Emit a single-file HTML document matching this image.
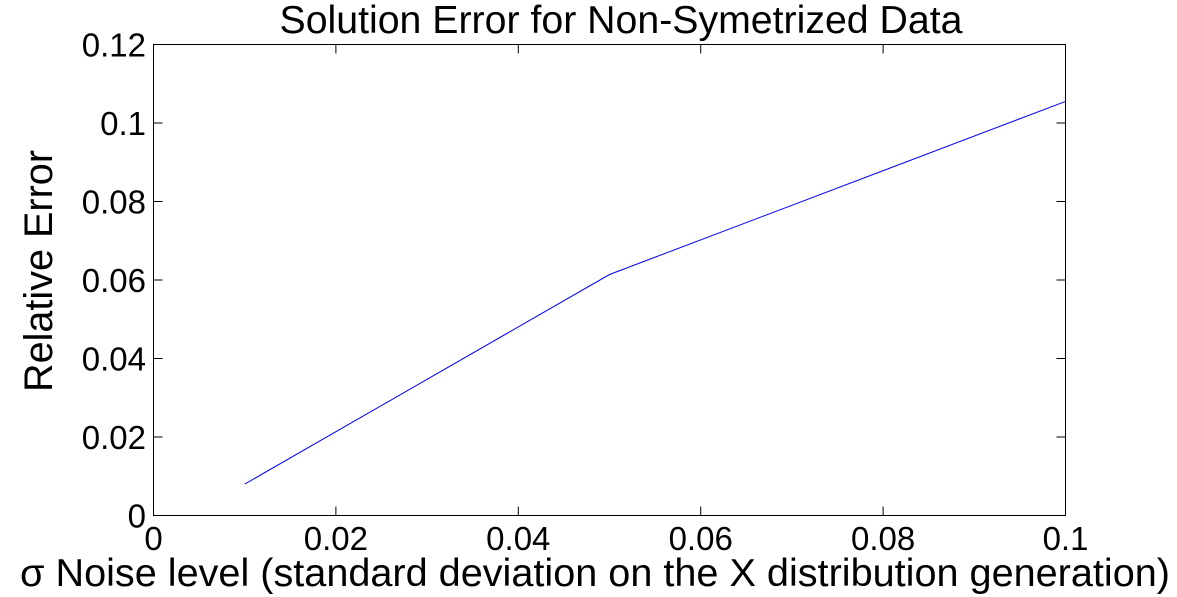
<!DOCTYPE html>
<html><head><meta charset="utf-8"><style>
body{margin:0;background:#fff;}
svg{display:block;font-family:"Liberation Sans",Arial,sans-serif;}
</style></head><body>
<svg id="chart" width="1177" height="597" viewBox="0 0 1177 597">
<rect width="1177" height="597" fill="#fff"/>
<text x="621" y="33" font-size="39" text-anchor="middle" textLength="683" lengthAdjust="spacingAndGlyphs">Solution Error for Non-Symetrized Data</text>
<text transform="translate(52,271) rotate(-90)" font-size="40" text-anchor="middle" textLength="242" lengthAdjust="spacingAndGlyphs">Relative Error</text>
<text x="595" y="586" font-size="39" text-anchor="middle" textLength="1150" lengthAdjust="spacingAndGlyphs">σ Noise level (standard deviation on the X distribution generation)</text>
<g id="axes"></g>
</svg>
<script>
const xs = [0.01, 0.05, 0.1];
const ys = [0.008, 0.0614, 0.1055];
const xTicks = [0, 0.02, 0.04, 0.06, 0.08, 0.1];
const xTickLabels = ["0", "0.02", "0.04", "0.06", "0.08", "0.1"];
const yTicks = [0, 0.02, 0.04, 0.06, 0.08, 0.1, 0.12];
const yTickLabels = ["0", "0.02", "0.04", "0.06", "0.08", "0.1", "0.12"];

const L=153.5,R=1065.5,T=44.5,B=515.5;
const sx=v=>L+(v-0)/(0.1-0)*(R-L);
const sy=v=>B-(v-0)/(0.12-0)*(B-T);
const NS='http://www.w3.org/2000/svg';
const g=document.getElementById('axes');
function mk(tag,attrs){const e=document.createElementNS(NS,tag);for(const k in attrs)e.setAttribute(k,attrs[k]);g.appendChild(e);return e;}
const box=mk('rect',{x:L,y:T,width:R-L,height:B-T,fill:'none',stroke:'#000','stroke-width':1});


xTicks.forEach((v,i)=>{
  const x=sx(v);
  const t1=mk('line',{x1:x,x2:x,y1:B,y2:B-9,stroke:'#000'});
  
  
  const t2=mk('line',{x1:x,x2:x,y1:T,y2:T+9,stroke:'#000'});
  
  
  const tx=mk('text',{x:x,y:550,'font-size':33,'text-anchor':'middle'});
  tx.textContent=xTickLabels[i];
  
  
});
yTicks.forEach((v,i)=>{
  const y=sy(v);
  const t1=mk('line',{x1:L,x2:L+9,y1:y,y2:y,stroke:'#000'});
  
  
  const t2=mk('line',{x1:R,x2:R-9,y1:y,y2:y,stroke:'#000'});
  
  
  const tx=mk('text',{x:146,y:y+12,'font-size':33,'text-anchor':'end'});
  tx.textContent=yTickLabels[i];
  
  
});
const pts=xs.map((x,i)=>sx(x)+','+sy(ys[i])).join(' ');
const line=mk('polyline',{points:pts,fill:'none',stroke:'#0000ff','stroke-width':1});


</script>
</body></html>
